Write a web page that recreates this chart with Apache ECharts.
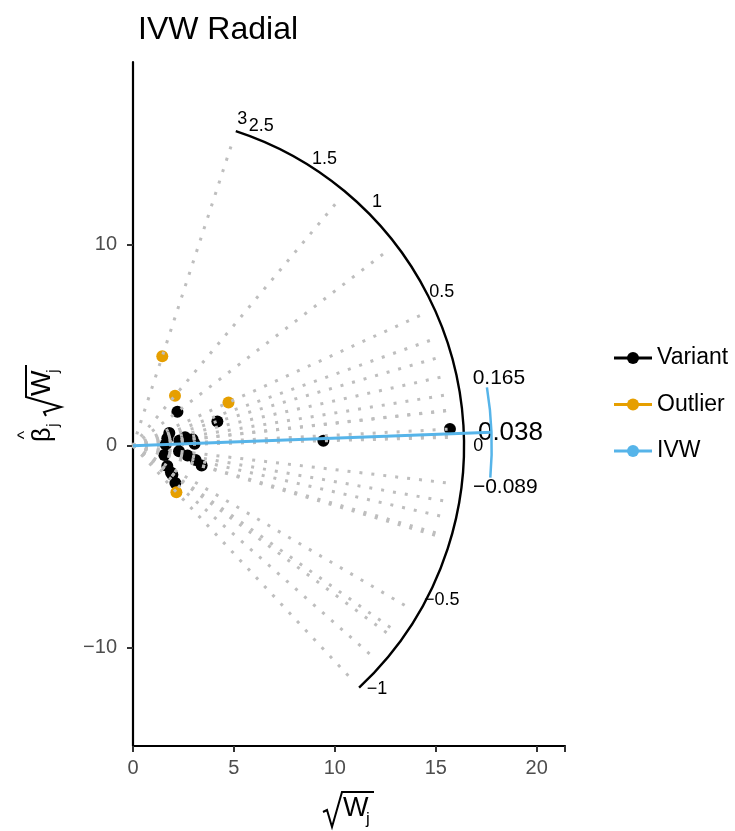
<!DOCTYPE html>
<html><head><meta charset="utf-8">
<script src="https://cdn.jsdelivr.net/npm/echarts@6/dist/echarts.min.js"></script>
<style>html,body{margin:0;padding:0;background:#fff}#c{width:735px;height:831px}</style>
</head><body><div id="c"></div>
<script>
// ---- data ----
const variantX = [2.20, 4.18, 9.43, 15.70, 1.80, 1.70, 2.58, 2.95, 2.30, 1.62, 3.05, 2.28, 2.70, 3.10, 3.40, 1.55, 1.70, 1.88, 1.95, 2.10];
const variantY = [1.69, 1.21, 0.25, 0.83, 0.64, 0.38, 0.42, 0.33, 0.26, 0.06, 0.10, -0.27, -0.48, -0.71, -0.98, -0.46, -1.00, -1.33, -1.44, -1.85];
const outlierX = [1.45, 2.08, 4.73, 2.15];
const outlierY = [4.44, 2.49, 2.15, -2.30];
const ivwEstimate = 0.038, ivwLower = -0.089, ivwUpper = 0.165;
const ivwLabels = ['0.038', '0.165', '\u22120.089'];
const arcTickValues = [3, 2.5, 1.5, 1, 0.5, 0, -0.5, -1];
const arcTickLabels = ['3', '2.5', '1.5', '1', '0.5', '0', '\u22120.5', '\u22121'];
const xTickValues = [0, 5, 10, 15, 20];
const yTickValues = [-10, 0, 10];
const legendLabels = ['Variant', 'Outlier', 'IVW'];
const legendColors = ['#000000', '#E69F00', '#56B4E9'];

// ---- geometry constants ----
const scaleR = 16.4, rayR = 16.05, labelR = 17.1, ivwR = 17.77;
const FONT = 'Liberation Sans, Arial, Helvetica, sans-serif';

const allRatios = variantX.map((x, i) => variantY[i] / x).concat(outlierX.map((x, i) => outlierY[i] / x));
const thMin = Math.atan(Math.min(...allRatios));
const thMax = Math.atan(Math.max(...allRatios));
const polar = (r, v) => [r * Math.cos(Math.atan(v)), r * Math.sin(Math.atan(v))];

const chart = echarts.init(document.getElementById('c'), null, {renderer: 'canvas'});

function arcItem(api, r, a0, a1, color, lw) {
  const c = api.coord([0, 0]);
  const rp = api.size([r, 0])[0];
  return {type: 'arc', shape: {cx: c[0], cy: c[1], r: rp, startAngle: -a1, endAngle: -a0, clockwise: true},
    style: {stroke: color, fill: null, lineWidth: lw}, silent: true};
}

function radicalChildren(x0, cy, color) {
  return [
    {type: 'polyline', shape: {points: [[x0, cy + 3], [x0 + 4, cy + 1], [x0 + 9, cy + 18], [x0 + 19, cy - 17], [x0 + 51, cy - 17]]},
      style: {stroke: color, lineWidth: 2, fill: null}},
    {type: 'text', x: x0 + 20, y: cy, style: {text: 'W', font: '27px ' + FONT, fill: color, align: 'left', verticalAlign: 'middle'}},
    {type: 'text', x: x0 + 43, y: cy + 10, style: {text: 'j', font: '17px ' + FONT, fill: color, align: 'left', verticalAlign: 'middle'}}
  ];
}

const legendGraphics = [];
legendLabels.forEach((lab, i) => {
  const y = 358 + i * 46.5;
  legendGraphics.push({type: 'line', shape: {x1: 614, y1: y, x2: 652, y2: y}, style: {stroke: legendColors[i], lineWidth: 3}});
  legendGraphics.push({type: 'circle', shape: {cx: 633, cy: y, r: 6}, style: {fill: legendColors[i]}});
  legendGraphics.push({type: 'text', x: 657, y: y, style: {text: lab, font: '23px ' + FONT, fill: '#000', align: 'left', verticalAlign: 'middle'}});
});

const labelBase = {show: true, position: 'inside', fontFamily: FONT, color: '#000', textBorderWidth: 0, opacity: 1};

const option = {
  animation: false,
  backgroundColor: '#fff',
  title: {text: 'IVW Radial', left: 133, top: 9, textStyle: {fontFamily: FONT, fontSize: 32, fontWeight: 'normal', color: '#000'}},
  grid: {left: 133, top: 62, width: 432, height: 684, containLabel: false},
  xAxis: {
    type: 'value', min: 0, max: 21.4, interval: 5,
    axisLine: {show: true, onZero: false, lineStyle: {color: '#000', width: 2.2}},
    axisTick: {show: true, length: 6, lineStyle: {color: '#333', width: 2}},
    axisLabel: {show: true, margin: 12, fontFamily: FONT, fontSize: 20, color: '#4D4D4D',
      customValues: xTickValues, formatter: v => String(v).replace('-', '\u2212')},
    splitLine: {show: false}
  },
  yAxis: {
    type: 'value', min: -14.9, max: 19.05,
    axisLine: {show: true, onZero: false, lineStyle: {color: '#000', width: 2.2}},
    axisTick: {show: true, length: 6, lineStyle: {color: '#333', width: 2}, customValues: yTickValues},
    axisLabel: {show: true, margin: 16, fontFamily: FONT, fontSize: 20, color: '#4D4D4D',
      customValues: yTickValues, formatter: v => String(v).replace('-', '\u2212')},
    splitLine: {show: false}
  },
  series: [
    {type: 'scatter', name: 'Variant', data: variantX.map((x, i) => [x, variantY[i]]), symbolSize: 12,
      itemStyle: {color: '#000', opacity: 1}, z: 2, silent: true},
    {type: 'scatter', name: 'Outlier', data: outlierX.map((x, i) => [x, outlierY[i]]), symbolSize: 12,
      itemStyle: {color: '#E69F00', opacity: 1}, z: 2, silent: true},
    {type: 'custom', name: 'rays', data: allRatios.map(r => [r, 0]), z: 3, silent: true,
      renderItem(params, api) {
        const p0 = api.coord([0, 0]);
        const p1 = api.coord(polar(rayR, api.value(0)));
        return {type: 'line', shape: {x1: p0[0], y1: p0[1], x2: p1[0], y2: p1[1]},
          style: {stroke: '#BEBEBE', lineWidth: 3, lineDash: [3, 9], lineCap: 'butt'}};
      }},
    {type: 'custom', name: 'scale', data: [[0, 0]], z: 3, silent: true,
      renderItem(params, api) { return arcItem(api, scaleR, thMin, thMax, '#000', 2.4); }},
    {type: 'scatter', name: 'scaleLabels', data: arcTickValues.map((v, i) => polar(labelR, v).concat([arcTickLabels[i]])),
      symbolSize: 1, itemStyle: {opacity: 0}, z: 5, silent: true,
      label: Object.assign({}, labelBase, {formatter: p => p.data[2], fontSize: 18})},
    {type: 'line', name: 'IVW', data: [[0, 0], polar(ivwR, ivwEstimate)], symbol: 'none', z: 6, silent: true,
      lineStyle: {color: '#56B4E9', width: 3}},
    {type: 'custom', name: 'ivwArc', data: [[0, 0]], z: 6, silent: true,
      renderItem(params, api) { return arcItem(api, ivwR, Math.atan(ivwLower), Math.atan(ivwUpper), '#56B4E9', 2.5); }},
    {type: 'scatter', name: 'ivwLabels', symbolSize: 1, itemStyle: {opacity: 0}, z: 5, silent: true,
      data: [
        {value: polar(ivwR, ivwEstimate), label: {formatter: ivwLabels[0], fontSize: 26, offset: [19, 1]}},
        {value: polar(ivwR, ivwUpper), label: {formatter: ivwLabels[1], fontSize: 21, offset: [12, -9]}},
        {value: polar(ivwR, ivwLower), label: {formatter: ivwLabels[2], fontSize: 21, offset: [15, 10]}}
      ],
      label: labelBase}
  ],
  graphic: [
    {type: 'group', x: 0, y: 0, children: legendGraphics},
    {type: 'group', x: 0, y: 0, children: radicalChildren(323, 809, '#000')},
    {type: 'group', x: 43, y: 442, rotation: Math.PI / 2, children: [
      {type: 'text', x: 0, y: 0, style: {text: '\u03B2', font: '25px ' + FONT, fill: '#000', align: 'left', verticalAlign: 'middle'}},
      {type: 'text', x: 7, y: -18, style: {text: '^', font: '18px ' + FONT, fill: '#000', align: 'center', verticalAlign: 'middle'}},
      {type: 'text', x: 15, y: 10, style: {text: 'j', font: '17px ' + FONT, fill: '#000', align: 'left', verticalAlign: 'middle'}}
    ].concat(radicalChildren(26, 0, '#000'))}
  ]
};
chart.setOption(option);
</script>
</body></html>
